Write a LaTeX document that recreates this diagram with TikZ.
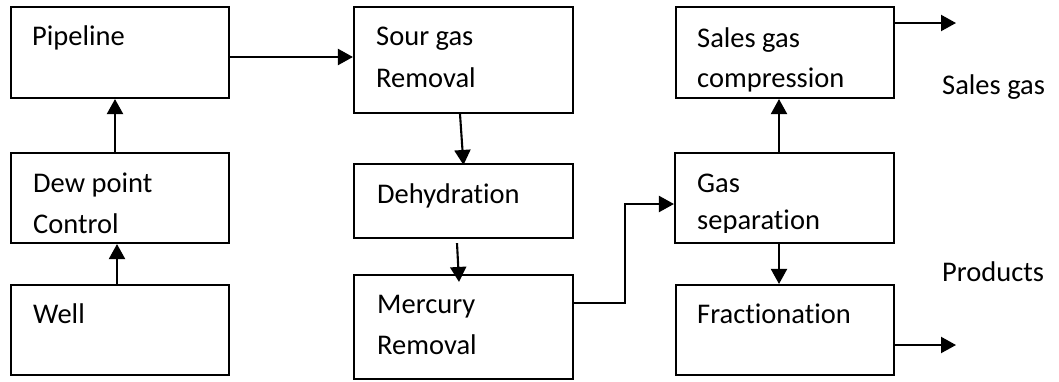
\documentclass[tikz,border=0pt]{standalone}
\usepackage{fontspec}
\setmainfont{Carlito}[Ligatures={NoCommon,NoContextual}]
\usetikzlibrary{arrows.meta}
\begin{document}
\begin{tikzpicture}[x=1pt,y=-1pt,
  box/.style={draw,line width=2.1pt,rectangle,inner sep=0pt},
  txt/.style={anchor=base west,inner sep=0pt,font=\fontsize{28.5}{34}\selectfont},
  arr/.style={line width=2.1pt,-{Triangle[length=15pt,width=16pt]}}]
\useasboundingbox (0,0) rectangle (1059,381);
% boxes
\node[box,minimum width=218pt,minimum height=91pt] (pipe) at (120,52.5) {};
\node[box,minimum width=218pt,minimum height=90pt] (dew) at (120,198) {};
\node[box,minimum width=218pt,minimum height=90pt] (well) at (120,330) {};
\node[box,minimum width=219pt,minimum height=106pt] (sour) at (463.5,60) {};
\node[box,minimum width=219pt,minimum height=74pt] (dehy) at (463.5,201) {};
\node[box,minimum width=219pt,minimum height=104pt] (merc) at (463.5,327) {};
\node[box,minimum width=218pt,minimum height=91pt] (sales) at (785,52.5) {};
\node[box,minimum width=219pt,minimum height=90pt] (gassep) at (784.5,198) {};
\node[box,minimum width=218pt,minimum height=90pt] (frac) at (785,330) {};
% texts
\node[txt] (tpipe) at (32,45) {Pipeline};
\node[txt] (tdew1) at (33,192) {Dew point};
\node[txt] (tdew2) at (33,233) {Control};
\node[txt] (twell) at (33,323) {Well};
\node[txt] (tsour1) at (376,45) {Sour gas};
\node[txt] (tsour2) at (376,87) {Removal};
\node[txt] (tdehy) at (377,203) {Dehydration};
\node[txt] (tmerc1) at (377,313) {Mercury};
\node[txt] (tmerc2) at (377,354) {Removal};
\node[txt] (tsales1) at (697,47) {Sales gas};
\begin{scope}
\clip (680,60) rectangle (890,91);
\node[txt] (tsales2) at (697,87) {compression};
\end{scope}
\node[txt] (tgas1) at (697,192) {Gas};
\begin{scope}
\clip (680,200) rectangle (890,232);
\node[txt] (tgas2) at (697,229) {separation};
\end{scope}
\node[txt] (tfrac) at (697,323) {Fractionation};
\node[txt] (lsales) at (942,94) {Sales gas};
\node[txt] (lprod) at (942,281) {Products};
% connectors
\coordinate (out1) at (956,23);
\coordinate (out2) at (956,345);
\draw[arr] ([xshift=-3pt]well.north) -- ([xshift=-3pt]dew.south);
\draw[arr] ([xshift=-5pt]dew.north) -- ([xshift=-5pt]pipe.south);
\draw[arr] ([yshift=-4.5pt]pipe.east) -- ([yshift=-4.5pt]pipe.east -| sour.west);
\draw[arr] ([xshift=-3.5pt]sour.south) -- ([yshift=-2pt]dehy.north);
\draw[arr] ([xshift=-6.5pt,yshift=-4pt]dehy.south) -- ([xshift=-4.5pt,yshift=-8pt]merc.north);
\draw[arr] ([yshift=24pt]merc.east) -- ++(51,0) |- ([yshift=-6pt]gassep.west);
\draw[arr] ([xshift=-5.5pt]gassep.north) -- ([xshift=-5.5pt]gassep.north |- sales.south);
\draw[arr] ([xshift=-5.5pt]gassep.south) -- ([xshift=-5.5pt]gassep.south |- frac.north);
\draw[arr] (sales.east |- out1) -- (out1);
\draw[arr] (frac.east |- out2) -- (out2);
\end{tikzpicture}
\end{document}
